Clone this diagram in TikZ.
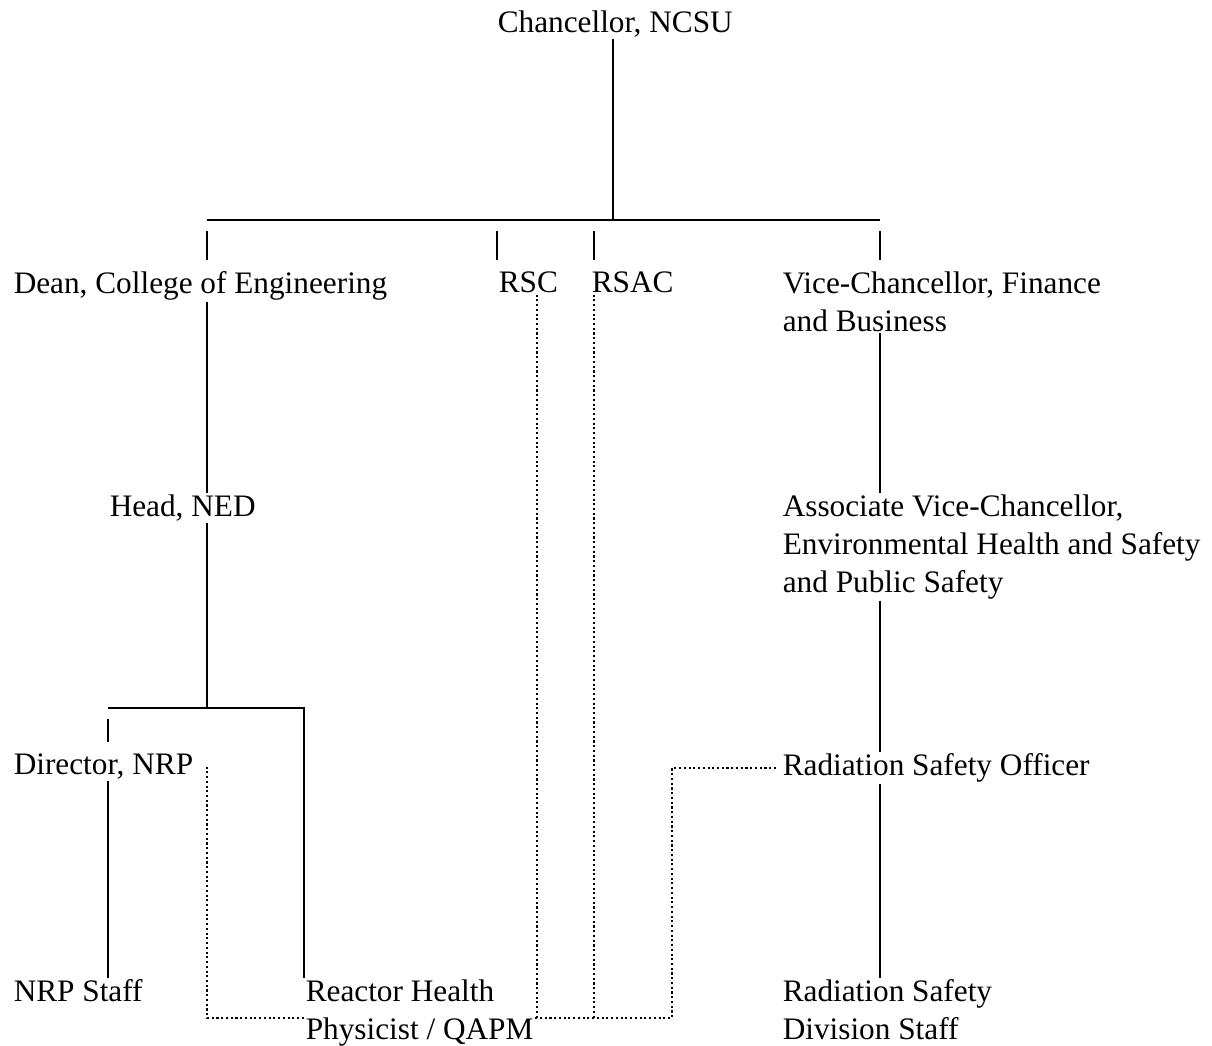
\documentclass[tikz,border=0pt]{standalone}
\usepackage{fontspec}
\setmainfont{Liberation Serif}
\usetikzlibrary{positioning}

\begin{document}
\begin{tikzpicture}[x=0.02cm,y=-0.02cm,
  every node/.style={anchor=north west,inner sep=0pt,outer sep=1pt,align=left,
    font=\fontsize{17.8}{21.5}\selectfont},
  line/.style={line width=1.1pt},
  dots/.style={line width=1.3pt,dash pattern=on 1.2pt off 1.5pt},
  stub/.style={line width=1.1pt,shorten <=5.5pt,shorten >=6.5pt}]
 \useasboundingbox (0,0) rectangle (1212,1045);
 % columns
 \coordinate (top) at (613,0);
 \coordinate (cL) at (207,0);
 \coordinate (cLL) at (108,0);
 \coordinate (cLR) at (304,0);
 \coordinate (cRSC) at (497,0);
 \coordinate (cRSAC) at (594,0);
 \coordinate (cD) at (537,0);
 \coordinate (cX) at (672,0);
 \coordinate (cR) at (880,0);
 \coordinate (bar) at (613,220);
 \coordinate (bar2) at (207,708);
 \coordinate (dotY) at (0,1018);

 \node (chanc) at (496,9) {Chancellor, NCSU};

 \node (dean) at (12,270) {Dean, College of Engineering};
 \node (rsc) at (497,270) {RSC};
 \node (rsac) at (590,270) {RSAC};
 \node (vcfb) at (781,270) {Vice-Chancellor, Finance\\and Business};

 \node (head) at (108,493) {Head, NED};
 \node (assoc) at (781,493) {Associate Vice-Chancellor,\\Environmental Health and Safety\\and Public Safety};

 \node (director) at (12,752) {Director, NRP};
 \node (rso) at (781,752) {Radiation Safety Officer};

 \node (staff) at (12,978) {NRP Staff};
 \node (reactor) at (304,978) {Reactor Health\\Physicist / QAPM};
 \node (rsds) at (781,978) {Radiation Safety\\Division Staff};

 % solid lines
 \draw[line] (chanc.south -| top) -- (bar);
 \draw[line] (bar -| cL) -- (bar -| cR);
 \draw[stub] (dean.north -| cL) -- (bar -| cL);
 \draw[stub] (rsc.north -| cRSC) -- (bar -| cRSC);
 \draw[stub] (rsac.north -| cRSAC) -- (bar -| cRSAC);
 \draw[stub] (vcfb.north -| cR) -- (bar -| cR);
 \draw[line] (dean.south -| cL) -- (head.north -| cL);
 \draw[line] (head.south -| cL) -- (bar2);
 \draw[line] (bar2 -| cLL) -- (bar2 -| cLR) -- (reactor.north -| cLR);
 \draw[stub] (director.north -| cLL) -- (bar2 -| cLL);
 \draw[line] (director.south -| cLL) -- (staff.north -| cLL);
 \draw[line] (vcfb.south -| cR) -- (assoc.north -| cR);
 \draw[line] (assoc.south -| cR) -- (rso.north -| cR);
 \draw[line] (rso.south -| cR) -- (rsds.north -| cR);

 % dotted lines
 \draw[dots] (director.east -| cL) -- (dotY -| cL) -- (dotY -| reactor.west);
 \draw[dots,shorten >=3pt] (dotY -| reactor.east) -- (dotY -| cX) -- (rso.west -| cX) -- (rso.west);
 \draw[dots] (rsc.south -| cD) -- (dotY -| cD);
 \draw[dots] (rsac.south -| cRSAC) -- (dotY -| cRSAC);
\end{tikzpicture}
\end{document}
